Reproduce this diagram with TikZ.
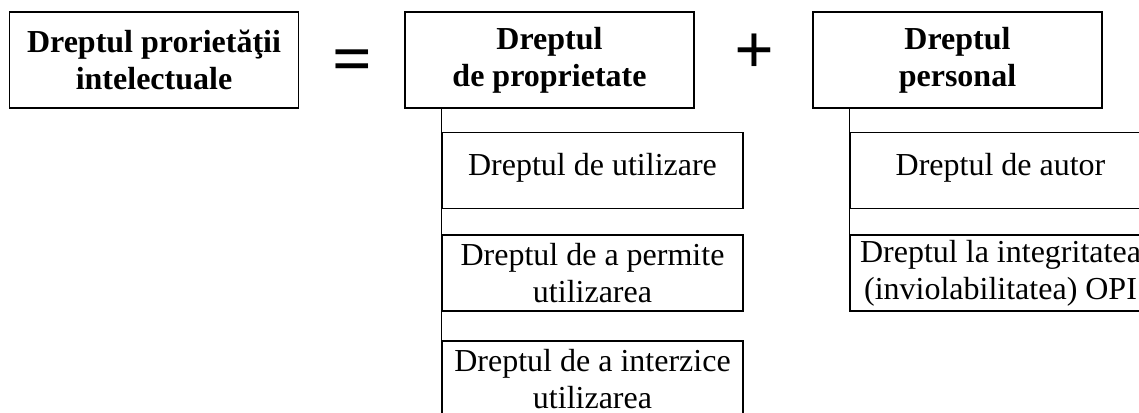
\documentclass[tikz,border=0pt]{standalone}
\usepackage{fontspec}
\setmainfont{Liberation Serif}

\begin{document}
\begin{tikzpicture}[x=1pt,y=-1pt,line width=1.4pt,
  cell/.style={draw,align=center,inner sep=0pt,font=\fontsize{32}{37}\selectfont},
  head/.style={cell,font=\fontsize{32}{37}\selectfont\bfseries,minimum width=289pt,minimum height=96pt},
  sub/.style={cell,minimum width=301pt,minimum height=76pt},
  oneline/.style={text depth=13pt},
  op/.style={font=\fontsize{70}{70}\selectfont\bfseries,inner sep=0pt,anchor=base}]
 \clip (0,0) rectangle (1139,412);
 % top row
 \node[head] (ipr) at (154,60) {Dreptul prorietăţii\\intelectuale};
 \node[op] (eq) at (352.5,82.7) {=};
 \node[head] (prop) at (549.5,60) {Dreptul\\de proprietate};
 \node[op] (plus) at (754.5,73.7) {+};
 \node[head] (pers) at (957.5,60) {Dreptul\\personal};
 % property rights
 \node[sub,oneline] (use) at (592.5,170.5) {Dreptul de utilizare};
 \node[sub] (allow) at (592.5,273) {Dreptul de a permite\\utilizarea};
 \node[sub] (ban) at (592.5,379) {Dreptul de a interzice\\utilizarea};
 % personal rights
 \node[sub,oneline] (auth) at (1000.5,170.5) {Dreptul de autor};
 \node[sub] (integ) at (1000.5,273) {Dreptul la integritatea\\(inviolabilitatea) OPI};
 \draw (prop.south -| use.west) -- (ban.south west);
 \draw (pers.south -| auth.west) -- (integ.south west);
\end{tikzpicture}
\end{document}
